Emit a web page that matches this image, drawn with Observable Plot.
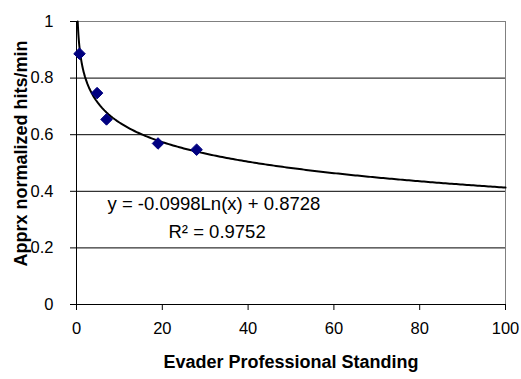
<!DOCTYPE html>
<html><head><meta charset="utf-8">
<script src="https://cdn.jsdelivr.net/npm/d3@7"></script>
<script src="https://cdn.jsdelivr.net/npm/@observablehq/plot@0.6"></script>
<style>body{margin:0;background:#fff}</style>
</head><body><div id="chart"></div>
<script>
// Data
const standing = [0.7, 4.8, 7.0, 19, 28];
const hitsPerMin = [0.886, 0.747, 0.654, 0.569, 0.547];
const xTicks = [0, 20, 40, 60, 80, 100];
const yTicks = [0, 0.2, 0.4, 0.6, 0.8, 1];
// Logarithmic trendline as printed on the chart
const trendSlope = -0.0998;
const trendIntercept = 0.8728;
const trendR2 = 0.9752;
const equationText = "y = -0.0998Ln(x) + 0.8728";
const r2Text = "R² = 0.9752";
const xLabel = "Evader Professional Standing";
const yLabel = "Apprx normalized hits/min";

const points = standing.map((x, i) => ({x, y: hitsPerMin[i]}));

// trendline samples (from the printed equation), clipped to the y domain
const xStart = Math.exp((1 - trendIntercept) / trendSlope);
const trendXs = [xStart].concat(d3.range(0.3, 2, 0.05), d3.range(2, 100.01, 0.5));
const trendPts = trendXs.map(x => ({x, y: trendSlope * Math.log(x) + trendIntercept}))
  .filter(d => d.y <= 1.0001);

const font = "'Liberation Sans', Arial, sans-serif";

const chart = Plot.plot({
  width: 521, height: 379,
  marginLeft: 76, marginRight: 16, marginTop: 21, marginBottom: 75,
  style: {fontFamily: font, fontSize: "16px", color: "#000", background: "#fff", overflow: "visible"},
  x: {domain: [0, 100], label: null},
  y: {domain: [0, 1], label: null},
  marks: [
    Plot.ruleY(yTicks.filter(v => v > 0 && v < 1), {stroke: "#000", strokeWidth: 1}),
    Plot.ruleY([1], {stroke: "#808080", strokeWidth: 1}),
    Plot.ruleX([100], {stroke: "#808080", strokeWidth: 1}),
    Plot.ruleX([0], {stroke: "#000", strokeWidth: 1}),
    Plot.ruleY([0], {stroke: "#000", strokeWidth: 1}),
    Plot.axisX({ticks: xTicks, tickSize: 6, tickPadding: 12, fontSize: 16.5, label: null, tickFormat: d => String(d)}),
    Plot.axisY({ticks: yTicks, tickSize: 6, tickPadding: 17, fontSize: 16.5, label: null, tickFormat: d => String(d)}),
    Plot.line(trendPts, {x: "x", y: "y", stroke: "#000", strokeWidth: 2, curve: "linear"}),
    Plot.dot(points, {x: "x", y: "y", symbol: "diamond2", r: 5.2, fill: "#000080", stroke: "#000080", strokeWidth: 1}),
    Plot.text([equationText], {frameAnchor: "top-left", textAnchor: "start", lineAnchor: "middle", dx: 31, dy: 182.6, fontSize: 18.5, fill: "#000"}),
    Plot.text([r2Text], {frameAnchor: "top-left", textAnchor: "start", lineAnchor: "middle", dx: 92, dy: 210.6, fontSize: 18.5, fill: "#000"}),
    Plot.text([xLabel], {frameAnchor: "bottom", textAnchor: "middle", lineAnchor: "middle", dy: 58.2, fontSize: 18, fontWeight: "bold", fill: "#000"}),
    Plot.text([yLabel], {frameAnchor: "left", textAnchor: "middle", lineAnchor: "middle", rotate: -90, dx: -55.6, dy: -9.5, fontSize: 18, fontWeight: "bold", fill: "#000"})
  ]
});
document.getElementById("chart").appendChild(chart);
</script>
</body></html>
